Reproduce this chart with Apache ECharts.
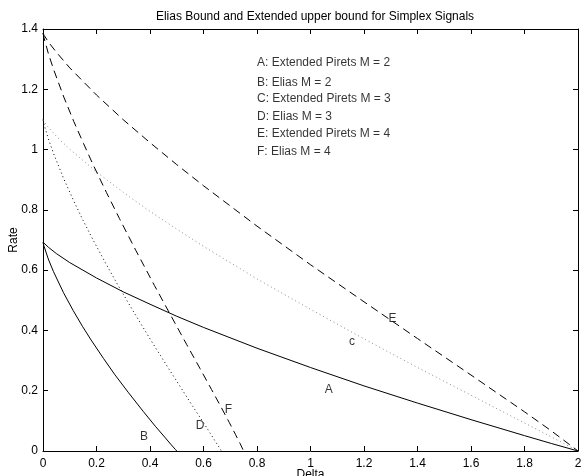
<!DOCTYPE html>
<html>
<head>
<meta charset="utf-8">
<script src="https://cdn.jsdelivr.net/npm/echarts@6/dist/echarts.min.js"></script>
<style>
html, body { margin: 0; padding: 0; background: #fff; }
#chart { width: 582px; height: 476px; }
</style>
</head>
<body>
<div id="chart"></div>
<script>
// [delta, rate]
var piretM2 = [[0,0.693],[0.005,0.688],[0.02,0.676],[0.05,0.655],[0.1,0.625],[0.2,0.574],[0.3,0.528],[0.4,0.487],[0.5,0.447],[0.6,0.410],[0.8,0.341],[1.0,0.277],[1.2,0.216],[1.4,0.159],[1.6,0.104],[1.8,0.051],[1.9,0.025],[2,0]];
var eliasM2 = [[0,0.693],[0.004,0.679],[0.0198,0.637],[0.0392,0.595],[0.0768,0.525],[0.1128,0.466],[0.1472,0.414],[0.18,0.368],[0.2262,0.307],[0.2688,0.253],[0.32,0.193],[0.375,0.131],[0.42,0.082],[0.455,0.046],[0.48,0.020],[0.495,0.005],[0.5,0]];
var piretM3 = [[0,1.099],[0.005,1.091],[0.02,1.074],[0.05,1.044],[0.1,1.001],[0.2,0.926],[0.3,0.858],[0.4,0.795],[0.5,0.736],[0.6,0.679],[0.8,0.571],[1.0,0.470],[1.2,0.372],[1.4,0.277],[1.6,0.185],[1.8,0.093],[1.9,0.047],[2,0]];
var eliasM3 = [[0,1.099],[0.004,1.083],[0.0199,1.036],[0.0394,0.987],[0.0776,0.903],[0.1146,0.830],[0.1504,0.764],[0.185,0.704],[0.2347,0.622],[0.2816,0.548],[0.34,0.460],[0.4063,0.363],[0.465,0.280],[0.5163,0.209],[0.56,0.148],[0.5963,0.099],[0.625,0.059],[0.6463,0.029],[0.66,0.010],[0.6656,0.002],[0.6667,0]];
var piretM4 = [[0,1.386],[0.005,1.378],[0.02,1.357],[0.05,1.323],[0.1,1.271],[0.2,1.181],[0.3,1.099],[0.4,1.023],[0.5,0.950],[0.6,0.880],[0.8,0.746],[1.0,0.618],[1.2,0.495],[1.4,0.373],[1.6,0.252],[1.8,0.130],[1.9,0.067],[2,0]];
var eliasM4 = [[0,1.386],[0.004,1.370],[0.0199,1.319],[0.0395,1.266],[0.0779,1.174],[0.1152,1.093],[0.1515,1.020],[0.1867,0.951],[0.2375,0.857],[0.2859,0.771],[0.3467,0.666],[0.4167,0.549],[0.48,0.446],[0.5367,0.354],[0.5867,0.274],[0.63,0.204],[0.6667,0.144],[0.6967,0.094],[0.72,0.054],[0.7367,0.025],[0.7467,0.006],[0.75,0]];

// curve letters placed on the plot [delta, rate, text]
var curveTags = [[0.378,0.047,'B'],[0.587,0.085,'D'],[0.693,0.136,'F'],[1.068,0.202,'A'],[1.155,0.362,'c'],[1.307,0.439,'E']];
// key text in the upper part of the box
var keyNotes = [[0.8,1.288,'A: Extended Pirets M = 2'],[0.8,1.223,'B: Elias M = 2'],[0.8,1.168,'C: Extended Pirets M = 3'],[0.8,1.109,'D: Elias M = 3'],[0.8,1.054,'E: Extended Pirets M = 4'],[0.8,0.993,'F: Elias M = 4']];

var font = 'Liberation Sans, Arial, Helvetica, sans-serif';
var chart = echarts.init(document.getElementById('chart'));

function frameAxis(pos, isX, main) {
    var ax = {
        type: 'value',
        position: pos,
        min: 0,
        max: isX ? 2 : 1.4,
        interval: 0.2,
        axisLine: { show: true, onZero: false, lineStyle: { color: '#000', width: 1 } },
        axisTick: { show: true, inside: true, length: 5, lineStyle: { color: '#000', width: 1 } },
        axisLabel: { show: main, color: '#000', fontSize: 12, fontFamily: font, margin: isX ? 7 : 5 },
        splitLine: { show: false }
    };
    if (main) {
        ax.name = isX ? 'Delta' : 'Rate';
        ax.nameLocation = 'middle';
        ax.nameGap = isX ? 18 : 23;
        ax.nameMoveOverlap = false;
        ax.nameTextStyle = { color: '#000', fontSize: 12, fontFamily: font };
    }
    return ax;
}

function curve(name, data, color, dash) {
    return {
        name: name,
        type: 'line',
        data: data,
        showSymbol: false,
        symbol: 'none',
        lineStyle: { color: color, width: 1, type: dash },
        silent: true
    };
}

var option = {
    animation: false,
    backgroundColor: '#fff',
    title: {
        text: 'Elias Bound and Extended upper bound for Simplex Signals',
        left: 310,
        textAlign: 'center',
        top: 6,
        textStyle: { color: '#000', fontSize: 12, fontWeight: 'normal', fontFamily: font }
    },
    grid: { left: 43, right: 4, top: 29, bottom: 25, containLabel: false, outerBoundsMode: 'none' },
    xAxis: [frameAxis('bottom', true, true), frameAxis('top', true, false)],
    yAxis: [frameAxis('left', false, true), frameAxis('right', false, false)],
    series: [
        curve('A', piretM2, '#000', 'solid'),
        curve('B', eliasM2, '#000', 'solid'),
        curve('C', piretM3, '#8a8a8a', [1, 3]),
        curve('D', eliasM3, '#000', [1, 3]),
        curve('E', piretM4, '#000', [8, 5]),
        curve('F', eliasM4, '#000', [8, 5]),
        {
            type: 'scatter',
            data: curveTags,
            symbolSize: 0,
            label: {
                show: true, position: 'inside', color: '#000', fontSize: 12, fontFamily: font,
                formatter: function (p) { return p.value[2]; }
            },
            silent: true
        },
        {
            type: 'scatter',
            data: keyNotes,
            symbolSize: 0,
            label: {
                show: true, position: 'right', distance: 0, color: '#000', fontSize: 12, fontFamily: font,
                formatter: function (p) { return p.value[2]; }
            },
            silent: true
        }
    ]
};
chart.setOption(option);
</script>
</body>
</html>
